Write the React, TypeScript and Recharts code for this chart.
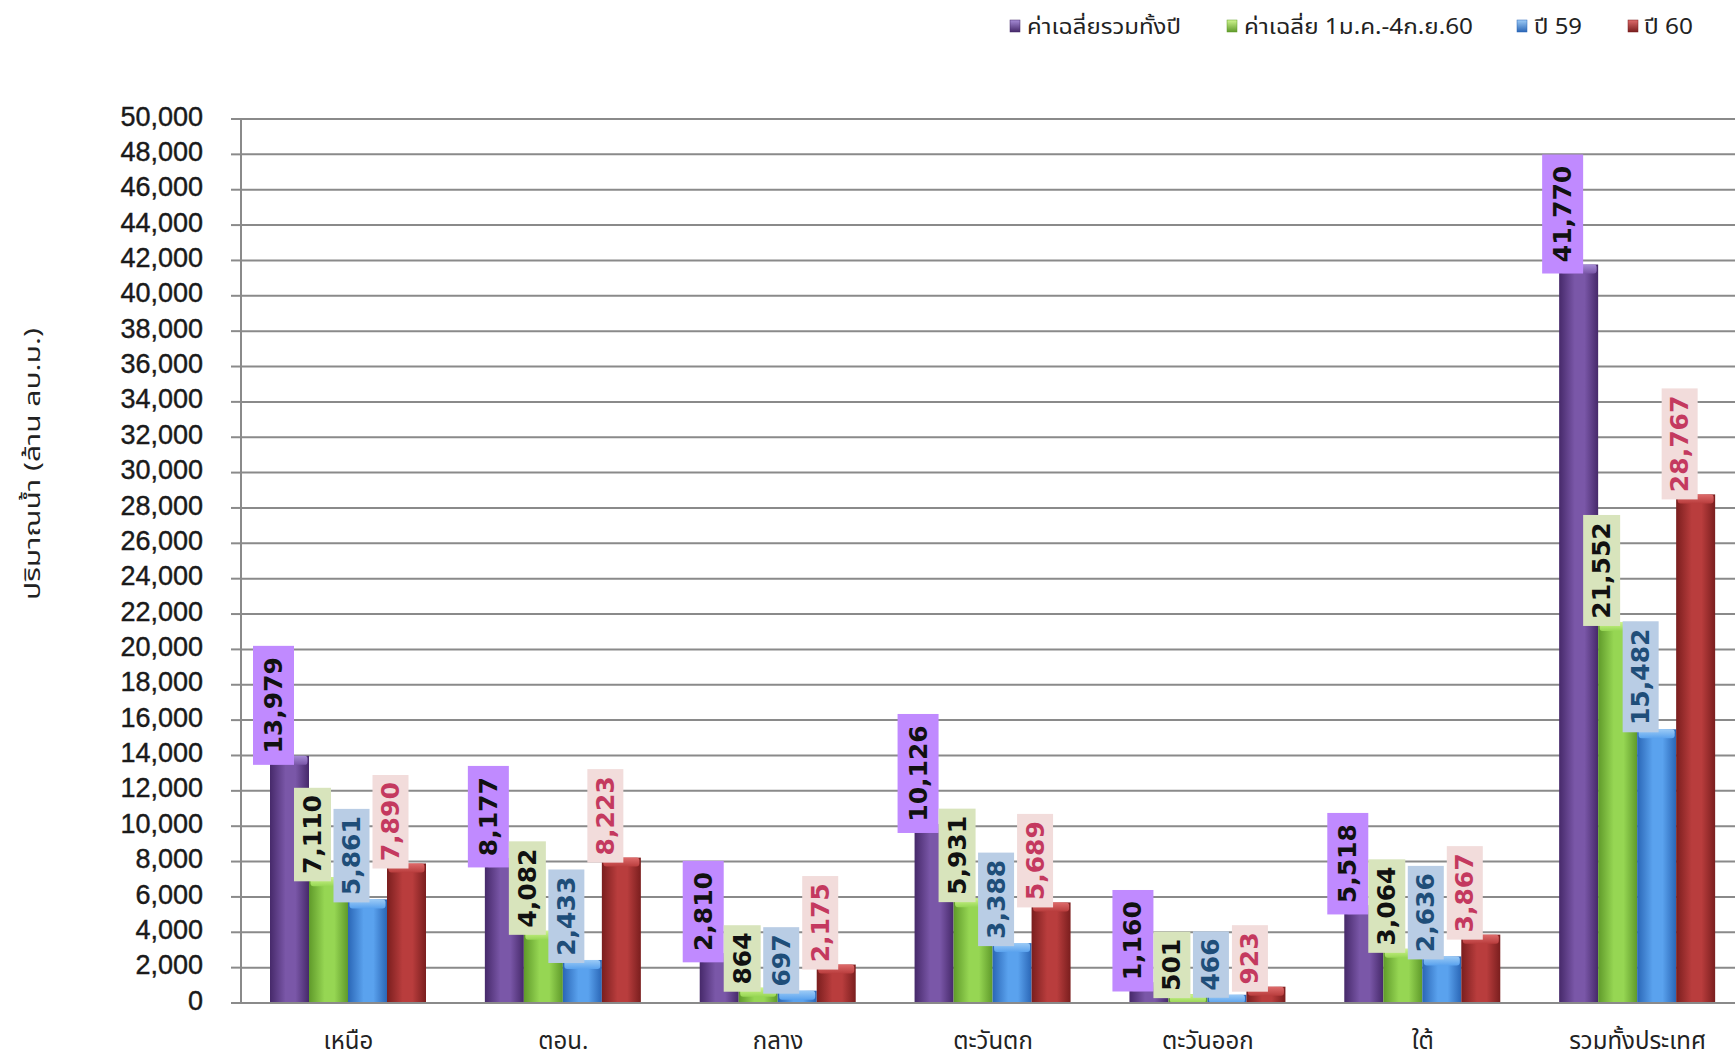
import React from 'react';
import { BarChart, Bar, XAxis, YAxis, CartesianGrid, LabelList } from 'recharts';

const categories = ['เหนือ', 'ตอน.', 'กลาง', 'ตะวันตก', 'ตะวันออก', 'ใต้', 'รวมทั้งประเทศ'];
const avgYear = [13979, 8177, 2810, 10126, 1160, 5518, 41770];
const avgPeriod = [7110, 4082, 864, 5931, 501, 3064, 21552];
const year59 = [5861, 2433, 697, 3388, 466, 2636, 15482];
const year60 = [7890, 8223, 2175, 5689, 923, 3867, 28767];
const seriesNames = ['ค่าเฉลี่ยรวมทั้งปี', 'ค่าเฉลี่ย 1ม.ค.-4ก.ย.60', 'ปี 59', 'ปี 60'];
const yTicks = [0, 2000, 4000, 6000, 8000, 10000, 12000, 14000, 16000, 18000, 20000, 22000, 24000, 26000, 28000, 30000, 32000, 34000, 36000, 38000, 40000, 42000, 44000, 46000, 48000, 50000];
const yTitle = 'ปริมาณน้ำ (ล้าน  ลบ.ม.)';

const data = categories.map((c, i) => ({
  name: c,
  s0: avgYear[i],
  s1: avgPeriod[i],
  s2: year59[i],
  s3: year60[i],
}));

const styles = [
  { key: 's0', edge: '#46296a', mid: '#7a57a8', cap: '#a68bd6', box: '#c08aff', text: '#111111', pad: 11, drop: 9, bw: 41 },
  { key: 's1', edge: '#5f9a2a', mid: '#96d653', cap: '#cff58e', box: '#d8e4bc', text: '#111111', pad: 7, drop: 4, bw: 37 },
  { key: 's2', edge: '#2a66b6', mid: '#5aa2ee', cap: '#9ccbf6', box: '#b9cde5', text: '#1f4e79', pad: 7, drop: 3, bw: 36 },
  { key: 's3', edge: '#7a1e1e', mid: '#b93d3d', cap: '#de6b6b', box: '#f2dcdb', text: '#c4395f', pad: 7, drop: 5, bw: 36 },
];

const legendPos = [
  { sq: 1010, tx: 1027, len: 154 },
  { sq: 1227, tx: 1244, len: 229 },
  { sq: 1517, tx: 1534, len: 48 },
  { sq: 1628, tx: 1644, len: 49 },
];

const fmt = (v: number) => v.toLocaleString('en-US');

const makeShape = (idx: number) => (props: any) => {
  const { x, y, width, height } = props;
  if (!height || height <= 0) return null;
  const cap = Math.min(9, height);
  return (
    <g>
      <rect x={x} y={y} width={width} height={height} fill={`url(#bar-${idx})`} />
      <rect x={x + 1.5} y={y} width={width - 3} height={cap} rx={3} fill={`url(#cap-${idx})`} />
    </g>
  );
};

const makeLabel = (idx: number) => (props: any) => {
  const { x, y, width, value } = props;
  const s = styles[idx];
  const str = fmt(Number(value));
  const fs = 25;
  const digits = str.replace(/,/g, '').length;
  const commas = str.length - digits;
  const textLen = (digits * 0.7 + commas * 0.38) * fs;
  const boxH = textLen + s.pad * 2;
  const cx = Number(x) + Number(width) / 2 - 16;
  const bottom = Number(y) + s.drop;
  const top = bottom - boxH;
  const cy = top + boxH / 2;
  return (
    <g>
      <rect x={cx - s.bw / 2} y={top} width={s.bw} height={boxH} fill={s.box} />
      <text
        x={cx}
        y={cy}
        transform={`rotate(-90 ${cx} ${cy})`}
        textAnchor="middle"
        dominantBaseline="central"
        fontFamily="'DejaVu Sans', Verdana, sans-serif"
        fontWeight="bold"
        fontSize={fs}
        fill={s.text}
      >
        {str}
      </text>
    </g>
  );
};

const YTitle = () => (
  <text
    x={33}
    y={464}
    transform="rotate(-90 33 464)"
    textAnchor="middle"
    dominantBaseline="central"
    fontFamily="'Noto Sans Thai', Tahoma, 'Noto Sans', sans-serif"
    fontSize={21}
    fill="#222"
    textLength={272}
    lengthAdjust="spacingAndGlyphs"
  >
    {yTitle}
  </text>
);

export default function App() {
  return (
    <div style={{ position: 'absolute', left: 0, top: 0, width: 1735, height: 1060, overflow: 'hidden', background: '#fff' }}>
      <BarChart
        width={1745}
        height={1060}
        data={data}
        margin={{ top: 119, right: 0, bottom: 0, left: 0 }}
        barGap={0}
        barSize={39}
      >
        <defs>
          {styles.map((s, i) => (
            <linearGradient key={`b${i}`} id={`bar-${i}`} x1="0" y1="0" x2="1" y2="0">
              <stop offset="0%" stopColor={s.edge} />
              <stop offset="40%" stopColor={s.mid} />
              <stop offset="65%" stopColor={s.mid} />
              <stop offset="100%" stopColor={s.edge} />
            </linearGradient>
          ))}
          {styles.map((s, i) => (
            <linearGradient key={`c${i}`} id={`cap-${i}`} x1="0" y1="0" x2="0" y2="1">
              <stop offset="0%" stopColor={s.cap} />
              <stop offset="100%" stopColor={s.mid} />
            </linearGradient>
          ))}
        </defs>
        <CartesianGrid vertical={false} stroke="#8a8a8a" strokeWidth={2} />
        <XAxis
          dataKey="name"
          height={57}
          tickLine={false}
          tickSize={0}
          tickMargin={29}
          axisLine={{ stroke: '#8a8a8a', strokeWidth: 2 }}
          tick={{ fontSize: 24, fill: '#222', fontFamily: "'Noto Sans Thai', Tahoma, 'Noto Sans', sans-serif" }}
          interval={0}
        />
        <YAxis
          width={241}
          domain={[0, 50000]}
          ticks={yTicks}
          interval={0}
          tickFormatter={(v: number) => fmt(v)}
          tickSize={10}
          tickMargin={28}
          axisLine={{ stroke: '#8a8a8a', strokeWidth: 2 }}
          tickLine={{ stroke: '#8a8a8a', strokeWidth: 2 }}
          tick={{ fontSize: 27, fill: '#1a1a1a', stroke: '#1a1a1a', strokeWidth: 0.4, dy: -3, fontFamily: "'Liberation Sans', Arial, sans-serif" }}
          label={{ content: () => <YTitle /> }}
        />
        {styles.map((s, i) => (
          <Bar key={s.key} dataKey={s.key} name={seriesNames[i]} isAnimationActive={false} shape={makeShape(i)}>
            <LabelList dataKey={s.key} content={makeLabel(i)} />
          </Bar>
        ))}
      </BarChart>
      <svg width={1735} height={60} style={{ position: 'absolute', left: 0, top: 0 }}>
        <defs>
          {styles.map((s, i) => (
            <linearGradient key={`l${i}`} id={`leg-${i}`} x1="0" y1="0" x2="0" y2="1">
              <stop offset="0%" stopColor={s.cap} />
              <stop offset="100%" stopColor={s.edge} />
            </linearGradient>
          ))}
        </defs>
        {seriesNames.map((n, i) => (
          <g key={n}>
            <rect x={legendPos[i].sq} y={20} width={10} height={12} fill={`url(#leg-${i})`} stroke={styles[i].edge} strokeWidth={0.5} />
            <text
              x={legendPos[i].tx}
              y={27}
              dominantBaseline="central"
              fontFamily="'Noto Sans Thai', Tahoma, 'Noto Sans', sans-serif"
              fontSize={21}
              fill="#222"
              textLength={legendPos[i].len}
              lengthAdjust="spacingAndGlyphs"
            >
              {n}
            </text>
          </g>
        ))}
      </svg>
    </div>
  );
}
